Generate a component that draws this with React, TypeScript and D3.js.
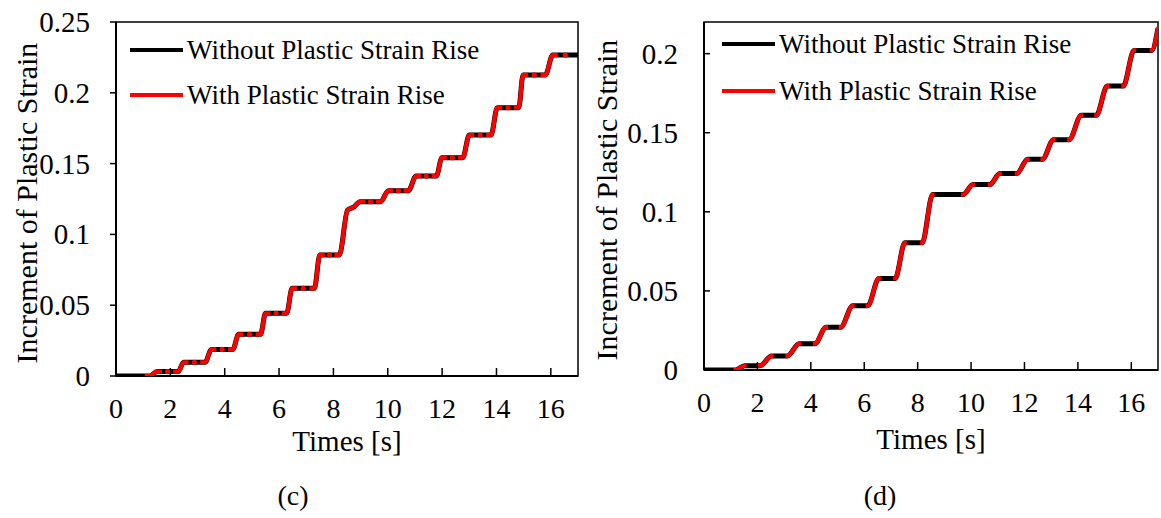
import React from "react";
import * as d3 from "d3";

// ---------- data (c) ----------
const cTime = [0, 1.24, 1.51, 2.29, 2.49, 3.28, 3.51, 4.3, 4.51, 5.32, 5.5, 6.28, 6.48, 7.3, 7.5, 8.22, 8.52, 8.72, 8.99, 9.74, 10.02, 10.76, 11.04, 11.79, 11.99, 12.76, 13.0, 13.8, 14.03, 14.82, 14.98, 15.8, 16.07, 17.0];
const cWithout = [0, 0, 0.0031, 0.0031, 0.0097, 0.0097, 0.0188, 0.0188, 0.0294, 0.0294, 0.0443, 0.0443, 0.0619, 0.0619, 0.0855, 0.0855, 0.1172, 0.119, 0.1231, 0.1231, 0.1309, 0.1309, 0.1412, 0.1412, 0.1542, 0.1542, 0.1702, 0.1702, 0.1895, 0.1895, 0.2126, 0.2126, 0.2267, 0.2267];
const cWith = [0, 0, 0.0031, 0.0031, 0.0097, 0.0097, 0.0188, 0.0188, 0.0294, 0.0294, 0.0443, 0.0443, 0.0619, 0.0619, 0.0855, 0.0855, 0.1172, 0.119, 0.1231, 0.1231, 0.1309, 0.1309, 0.1412, 0.1412, 0.1542, 0.1542, 0.1702, 0.1702, 0.1895, 0.1895, 0.2126, 0.2126, 0.2267, 0.2267];

// ---------- data (d) ----------
const dTime = [0, 1.18, 1.52, 2.1, 2.53, 3.12, 3.56, 4.15, 4.57, 5.12, 5.57, 6.13, 6.55, 7.16, 7.52, 8.17, 8.56, 9.7, 10.07, 10.7, 11.08, 11.71, 12.12, 12.67, 13.09, 13.67, 14.13, 14.69, 15.1, 15.7, 16.1, 16.76, 17.0];
const dWithout = [0, 0, 0.0027, 0.0027, 0.0088, 0.0088, 0.0166, 0.0166, 0.0271, 0.0271, 0.0406, 0.0406, 0.0579, 0.0579, 0.0804, 0.0804, 0.1109, 0.1109, 0.1172, 0.1172, 0.1242, 0.1242, 0.1332, 0.1332, 0.1456, 0.1456, 0.161, 0.161, 0.1795, 0.1795, 0.202, 0.202, 0.216];
const dWith = [0, 0, 0.0027, 0.0027, 0.0088, 0.0088, 0.0166, 0.0166, 0.0271, 0.0271, 0.0406, 0.0406, 0.0579, 0.0579, 0.0804, 0.0804, 0.1109, 0.1109, 0.1172, 0.1172, 0.1242, 0.1242, 0.1332, 0.1332, 0.1456, 0.1456, 0.161, 0.161, 0.1795, 0.1795, 0.202, 0.202, 0.216];

// ---------- ticks & labels ----------
const xTicks = [0, 2, 4, 6, 8, 10, 12, 14, 16];
const cYTicks = [0, 0.05, 0.1, 0.15, 0.2, 0.25];
const dYTicks = [0, 0.05, 0.1, 0.15, 0.2];
const seriesNames = ["Without Plastic Strain Rise", "With Plastic Strain Rise"];
const xTitle = "Times [s]";
const yTitle = "Increment of Plastic Strain";

const FONT = '"Liberation Serif", "Times New Roman", Times, serif';

type PanelProps = {
  id: string;
  time: number[];
  without: number[];
  withRise: number[];
  yTicks: number[];
  yMax: number;
  x0: number;
  x1: number;
  yTop: number;
  yBot: number;
  yTickDir: number;
  legendX: number;
  legendY: number[];
  titleX: number;
  caption: string;
  captionX: number;
  xLabelBase: number;
  redPad: number;
  midDots: boolean;
};

function Panel(p: PanelProps) {
  const x = d3.scaleLinear().domain([0, 17]).range([p.x0, p.x1]);
  const y = d3.scaleLinear().domain([0, p.yMax]).range([p.yBot, p.yTop]);
  const pts = p.time.map((t, i) => [t, p.without[i]] as [number, number]);
  const ptsR = p.time.map((t, i) => [t, p.withRise[i]] as [number, number]);
  const line = d3
    .line<[number, number]>()
    .x((d) => x(d[0]))
    .y((d) => y(d[1]))
    .curve(d3.curveMonotoneX);

  const risers: [number, number][] = [];
  const flats: [number, number][] = [];
  for (let i = 0; i < p.time.length - 1; i++) {
    if (p.withRise[i + 1] > p.withRise[i]) risers.push([p.time[i], p.time[i + 1]]);
    else if (i > 0) flats.push([(p.time[i] + p.time[i + 1]) / 2, p.withRise[i]]);
  }
  const merged: [number, number][] = [];
  risers.forEach((r) => {
    const last = merged[merged.length - 1];
    if (last && Math.abs(last[1] - r[0]) < 1e-9) last[1] = r[1];
    else merged.push([r[0], r[1]]);
  });

  const clipId = `clip-red-${p.id}`;
  const plotClip = `clip-plot-${p.id}`;
  const h = p.yBot - p.yTop;
  const xMid = (p.x0 + p.x1) / 2;

  return (
    <g>
      <defs>
        <clipPath id={clipId}>
          {merged.map((r, i) => (
            <rect
              key={i}
              x={x(r[0]) - p.redPad}
              y={p.yTop - 10}
              width={x(r[1]) - x(r[0]) + 2 * p.redPad}
              height={h + 20}
            />
          ))}
        </clipPath>
        <clipPath id={plotClip}>
          <rect x={p.x0} y={p.yTop} width={p.x1 - p.x0} height={h} />
        </clipPath>
      </defs>

      <rect x={p.x0} y={p.yTop} width={p.x1 - p.x0} height={h} fill="none" stroke="#000" strokeWidth={1.5} />
      <line x1={p.x0} x2={p.x1} y1={p.yBot} y2={p.yBot} stroke="#000" strokeWidth={2} />
      <line x1={p.x0} x2={p.x0} y1={p.yTop} y2={p.yBot} stroke="#000" strokeWidth={2} />

      {xTicks.map((t) => (
        <g key={t}>
          <line x1={x(t)} x2={x(t)} y1={p.yBot} y2={p.yBot - 8} stroke="#000" strokeWidth={1.5} />
          <text x={x(t)} y={p.yBot + 42} textAnchor="middle" fontFamily={FONT} fontSize={28} fill="#000">
            {t}
          </text>
        </g>
      ))}
      {p.yTicks.map((t) => (
        <g key={t}>
          <line x1={p.x0} x2={p.x0 + p.yTickDir * 6} y1={y(t)} y2={y(t)} stroke="#000" strokeWidth={1.5} />
          <text x={p.x0 - 26} y={y(t) + 10} textAnchor="end" fontFamily={FONT} fontSize={29} fill="#000">
            {d3.format("~g")(t)}
          </text>
        </g>
      ))}

      <text x={xMid} y={p.xLabelBase} textAnchor="middle" fontFamily={FONT} fontSize={29} fill="#000">
        {xTitle}
      </text>
      <text
        transform={`translate(${p.titleX},${(p.yTop + p.yBot) / 2 + 4}) rotate(-90)`}
        textAnchor="middle"
        fontFamily={FONT}
        fontSize={30}
        fill="#000"
      >
        {yTitle}
      </text>

      <g clipPath={`url(#${plotClip})`}>
        <path d={line(pts) || ""} fill="none" stroke="#000" strokeWidth={5} strokeLinejoin="round" />
        <g clipPath={`url(#${clipId})`}>
          <path d={line(ptsR) || ""} fill="none" stroke="#ff0000" strokeWidth={4.2} strokeLinejoin="round" strokeLinecap="round" />
        </g>
        {p.midDots &&
          flats.map((f, i) => (
            <circle key={i} cx={x(f[0])} cy={y(f[1])} r={2.6} fill="#ff0000" />
          ))}
      </g>

      {seriesNames.map((name, i) => (
        <g key={name}>
          <line
            x1={p.legendX}
            x2={p.legendX + 53}
            y1={p.legendY[i]}
            y2={p.legendY[i]}
            stroke={i === 0 ? "#000" : "#ff0000"}
            strokeWidth={4}
          />
          <text x={p.legendX + 57} y={p.legendY[i] + 9} fontFamily={FONT} fontSize={27} fill="#000">
            {name}
          </text>
        </g>
      ))}

      <text x={p.captionX} y={505} textAnchor="middle" fontFamily={FONT} fontSize={28} fill="#000">
        {p.caption}
      </text>
    </g>
  );
}

export default function App() {
  return (
    <svg
      width={1161}
      height={518}
      viewBox="0 0 1161 518"
      style={{ position: "absolute", left: 0, top: 0, background: "#fff" }}
    >
      <rect x={0} y={0} width={1161} height={518} fill="#fff" />
      <Panel
        id="c"
        time={cTime}
        without={cWithout}
        withRise={cWith}
        yTicks={cYTicks}
        yMax={0.25}
        x0={116}
        x1={578}
        yTop={22}
        yBot={376}
        yTickDir={-1}
        legendX={130}
        legendY={[50, 95]}
        titleX={37}
        caption="(c)"
        captionX={293}
        xLabelBase={451}
        redPad={5}
        midDots={true}
      />
      <Panel
        id="d"
        time={dTime}
        without={dWithout}
        withRise={dWith}
        yTicks={dYTicks}
        yMax={0.22}
        x0={704}
        x1={1158}
        yTop={22}
        yBot={370}
        yTickDir={1}
        legendX={722}
        legendY={[44, 91]}
        titleX={617}
        caption="(d)"
        captionX={880}
        xLabelBase={449}
        redPad={2}
        midDots={false}
      />
    </svg>
  );
}
